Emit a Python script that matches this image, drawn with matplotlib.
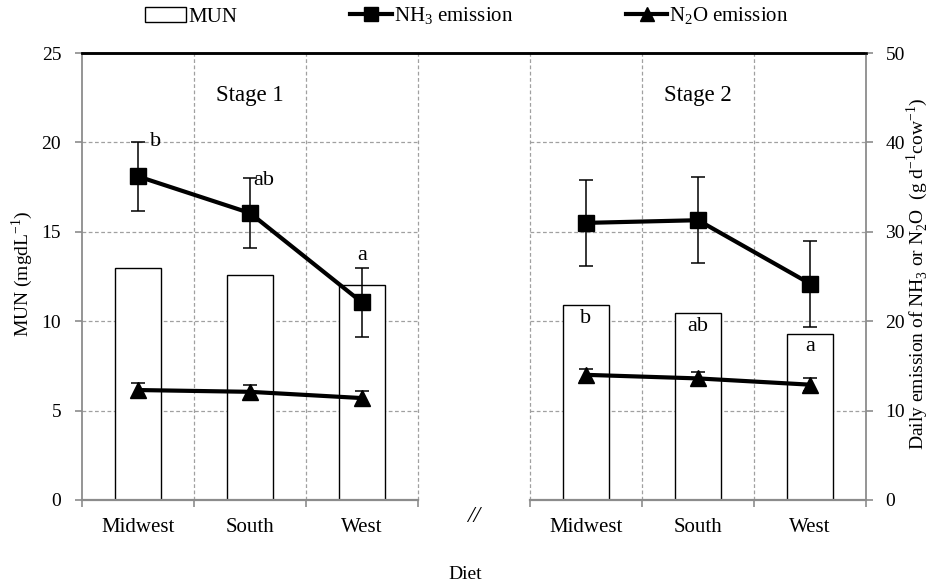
import matplotlib
matplotlib.use("Agg")
from matplotlib import pyplot as plt
from matplotlib.patches import Patch
from matplotlib.lines import Line2D
import numpy as np

plt.rcParams['font.family'] = ['Liberation Serif', 'DejaVu Serif']
plt.rcParams['mathtext.fontset'] = 'custom'
plt.rcParams['mathtext.rm'] = 'Liberation Serif'

diets = ["Midwest", "South", "West"]
stages = ["Stage 1", "Stage 2"]

# MUN, mg/dL (left axis)
mun = [[13.0, 12.6, 12.0], [10.9, 10.45, 9.3]]
mun_letters = [None, ["b", "ab", "a"]]

# emissions, g/d/cow (right axis)
nh3 = [[36.2, 32.1, 22.1], [31.0, 31.3, 24.2]]
nh3_err = [[3.9, 3.9, 3.9], [4.8, 4.8, 4.8]]
nh3_letters = [["b", "ab", "a"], None]
n2o = [[12.3, 12.1, 11.4], [14.0, 13.6, 12.9]]
n2o_err = [[0.8, 0.8, 0.8], [0.7, 0.7, 0.7]]

grey = "#8c8c8c"
fs = 15

fig = plt.figure(figsize=(9.30, 5.83), dpi=100)
ax = fig.add_axes([0.0882, 0.1424, 0.8430, 0.7666])
ax2 = ax.twinx()

# 3 slots per stage, one empty slot between stages
slot_start = [0, 4]
ax.set_xlim(0, 7)
ax.set_ylim(0, 25)
ax2.set_ylim(0, 50)

for s in range(2):
    x0 = slot_start[s]
    xs = x0 + np.arange(len(diets)) + 0.5
    # grid in this stage only
    for y in [5, 10, 15, 20]:
        ax.plot([x0, x0 + 3], [y, y], ls=(0, (3, 2)), color="#a0a0a0", lw=0.9, zorder=0)
    for xv in range(x0, x0 + 4):
        if xv == 0 or xv == 7:
            continue
        ax.plot([xv, xv], [0, 25], ls=(0, (3, 2)), color="#a0a0a0", lw=0.9, zorder=0)
    # bottom axis piece
    ax.plot([x0, x0 + 3], [0, 0], color=grey, lw=1.6, clip_on=False, zorder=3)

    ax.bar(xs, mun[s], width=0.41, color="white", edgecolor="black", lw=1.0, zorder=2)
    ax2.errorbar(xs, nh3[s], yerr=nh3_err[s], color="black", lw=3, marker="s", ms=12,
                 ecolor="black", elinewidth=1.1, capsize=5, capthick=1.1, zorder=5)
    ax2.errorbar(xs, n2o[s], yerr=n2o_err[s], color="black", lw=3, marker="^", ms=12,
                 ecolor="black", elinewidth=1.1, capsize=5, capthick=1.1, zorder=5)

    ax.text(x0 + 1.5, 22.6, stages[s], ha="center", va="center", fontsize=16.5)

    if mun_letters[s]:
        for x, v, t in zip(xs, mun[s], mun_letters[s]):
            ax.text(x, v - 0.2, t, ha="center", va="top", fontsize=fs + 1, zorder=6)
    if nh3_letters[s]:
        tops = np.array(nh3[s]) + np.array(nh3_err[s])
        ax2.text(xs[0] + 0.11, tops[0], nh3_letters[s][0], ha="left", va="center", fontsize=fs + 1)
        ax2.text(xs[1] + 0.03, tops[1] - 0.3, nh3_letters[s][1], ha="left", va="center", fontsize=fs + 1)
        ax2.text(xs[2], tops[2] + 1.3, nh3_letters[s][2], ha="center", va="center", fontsize=fs + 1)

ax.text(3.5, -0.9, "//", ha="center", va="center", fontsize=fs + 2, style="italic")

# ticks: boundaries get marks, categories get labels
cat_pos = [slot_start[s] + i + 0.5 for s in range(2) for i in range(len(diets))]
ax.set_xticks(range(8))
ax.set_xticklabels([])
ax.set_xticks(cat_pos, minor=True)
ax.set_xticklabels(diets * 2, minor=True, fontsize=fs)
ax.tick_params(axis="x", which="major", length=5, color=grey, width=1.2)
ax.tick_params(axis="x", which="minor", length=0, pad=13)

ax.set_yticks(range(0, 26, 5))
ax.tick_params(axis="y", labelsize=fs - 1, length=5, color=grey, width=1.2, pad=10)
ax2.set_yticks(range(0, 51, 10))
ax2.tick_params(axis="y", labelsize=fs - 1, length=5, color=grey, width=1.2, pad=9)

for a in (ax, ax2):
    a.spines["bottom"].set_visible(False)
    a.spines["left"].set_color(grey)
    a.spines["right"].set_color(grey)
    a.spines["left"].set_linewidth(1.3)
    a.spines["right"].set_linewidth(1.3)
    a.spines["top"].set_color("black")
    a.spines["top"].set_linewidth(1.8)
ax2.spines["left"].set_visible(False)
ax.spines["right"].set_visible(False)

fig.text(0.024, 0.53, "MUN (mgdL$^{-1}$)", rotation=90, ha="center", va="center", fontsize=fs - 1)
fig.text(0.986, 0.53, "Daily emission of NH$_3$ or N$_2$O  (g d$^{-1}$cow$^{-1}$)",
         rotation=90, ha="center", va="center", fontsize=fs - 1)
fig.text(0.5, 0.015, "Diet", ha="center", va="center", fontsize=fs - 1)

handles = [Patch(facecolor="white", edgecolor="black", lw=1.0),
           Line2D([], [], color="black", lw=3, marker="s", ms=10),
           Line2D([], [], color="black", lw=3, marker="^", ms=10)]
labels = ["MUN", "NH$_3$ emission", "N$_2$O emission"]
fig.legend(handles, labels, loc="center", bbox_to_anchor=(0.502, 0.972), ncol=3, frameon=False,
           fontsize=fs, handlelength=2.0, handletextpad=0.1, columnspacing=5.4)

plt.savefig("out.png", dpi=100)
